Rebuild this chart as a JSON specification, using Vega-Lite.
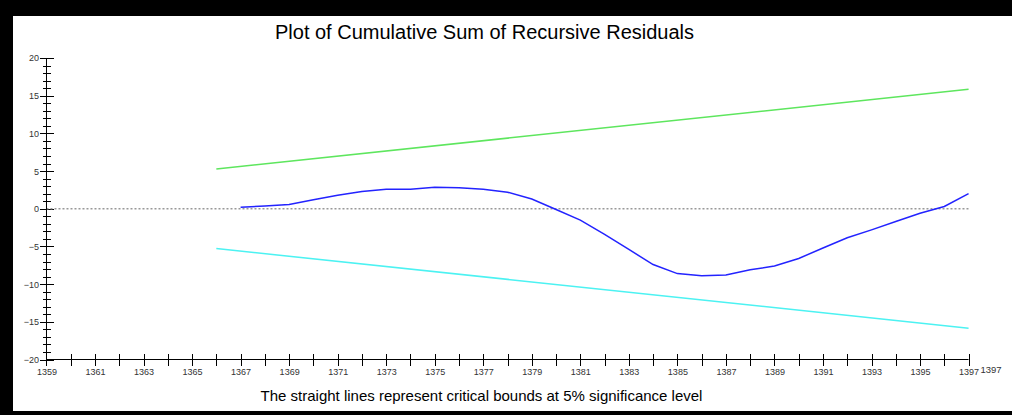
{
  "$schema": "https://vega.github.io/schema/vega-lite/v6.json",
  "width": 999,
  "height": 395,
  "autosize": {"type": "none"},
  "padding": {"top": 16, "left": 13, "right": 0, "bottom": 4},
  "background": "black",
  "config": {
    "view": {"stroke": null, "fill": "white"},
    "font": "Liberation Sans"
  },
  "title": {
    "text": "Plot of Cumulative Sum of Recursive Residuals",
    "fontSize": 20,
    "fontWeight": "normal",
    "font": "Liberation Sans",
    "color": "black",
    "anchor": "middle",
    "frame": "group",
    "baseline": "alphabetic",
    "dx": -28,
    "offset": -43
  },
  "datasets": {
    "series": [
      {"series": "Upper", "year": 1366, "value": 5.28},
      {"series": "Upper", "year": 1397, "value": 15.84},
      {"series": "Lower", "year": 1366, "value": -5.28},
      {"series": "Lower", "year": 1397, "value": -15.84},
      {"series": "CUSUM", "year": 1367, "value": 0.2},
      {"series": "CUSUM", "year": 1368, "value": 0.35},
      {"series": "CUSUM", "year": 1369, "value": 0.55},
      {"series": "CUSUM", "year": 1370, "value": 1.2},
      {"series": "CUSUM", "year": 1371, "value": 1.8},
      {"series": "CUSUM", "year": 1372, "value": 2.3},
      {"series": "CUSUM", "year": 1373, "value": 2.6},
      {"series": "CUSUM", "year": 1374, "value": 2.6},
      {"series": "CUSUM", "year": 1375, "value": 2.85},
      {"series": "CUSUM", "year": 1376, "value": 2.8},
      {"series": "CUSUM", "year": 1377, "value": 2.6},
      {"series": "CUSUM", "year": 1378, "value": 2.2},
      {"series": "CUSUM", "year": 1379, "value": 1.3},
      {"series": "CUSUM", "year": 1380, "value": -0.1},
      {"series": "CUSUM", "year": 1381, "value": -1.5},
      {"series": "CUSUM", "year": 1382, "value": -3.4},
      {"series": "CUSUM", "year": 1383, "value": -5.4},
      {"series": "CUSUM", "year": 1384, "value": -7.4},
      {"series": "CUSUM", "year": 1385, "value": -8.6},
      {"series": "CUSUM", "year": 1386, "value": -8.9},
      {"series": "CUSUM", "year": 1387, "value": -8.8},
      {"series": "CUSUM", "year": 1388, "value": -8.1},
      {"series": "CUSUM", "year": 1389, "value": -7.6},
      {"series": "CUSUM", "year": 1390, "value": -6.6},
      {"series": "CUSUM", "year": 1391, "value": -5.2},
      {"series": "CUSUM", "year": 1392, "value": -3.85},
      {"series": "CUSUM", "year": 1393, "value": -2.8},
      {"series": "CUSUM", "year": 1394, "value": -1.7},
      {"series": "CUSUM", "year": 1395, "value": -0.6},
      {"series": "CUSUM", "year": 1396, "value": 0.3},
      {"series": "CUSUM", "year": 1397, "value": 2.0}
    ]
  },
  "resolve": {"axis": {"x": "independent", "y": "independent"}},
  "layer": [
    {
      "data": {"values": [{}]},
      "mark": {"type": "rule", "color": "#999999", "strokeWidth": 1.5, "strokeDash": [2, 2]},
      "encoding": {
        "x": {
          "datum": 1359,
          "type": "quantitative",
          "scale": {"domain": [1357.62, 1398.79], "nice": false, "zero": false},
          "axis": {
            "orient": "bottom", "offset": -51.5, "domain": false, "grid": false,
            "values": [1359,1360,1361,1362,1363,1364,1365,1366,1367,1368,1369,1370,1371,1372,1373,1374,1375,1376,1377,1378,1379,1380,1381,1382,1383,1384,1385,1386,1387,1388,1389,1390,1391,1392,1393,1394,1395,1396,1397],
            "tickSize": -6, "tickColor": "black", "tickWidth": 1,
            "labels": false,
            "title": "The straight lines represent critical bounds at 5% significance level",
            "titleFontSize": 15, "titleFontWeight": "normal", "titleColor": "black",
            "titleFont": "Liberation Sans",
            "titleX": 468, "titleY": 41, "titleAlign": "center", "titleBaseline": "alphabetic", "titleAnchor": null
          }
        },
        "x2": {"datum": 1397},
        "y": {
          "datum": 0,
          "type": "quantitative",
          "scale": {"domain": [-26.83, 25.57], "nice": false, "zero": false},
          "axis": {
            "orient": "left", "offset": -33.5, "domain": false, "grid": false,
            "values": [-20, -15, -10, -5, 0, 5, 10, 15, 20],
            "tickSize": -7, "tickColor": "black", "tickWidth": 1,
            "labels": false, "title": null
          }
        }
      }
    },
    {
      "data": {"values": [{}]},
      "mark": {"type": "rule", "color": "black", "strokeWidth": 1},
      "encoding": {
        "x": {"datum": 1359, "type": "quantitative", "scale": {"domain": [1357.62, 1398.79], "nice": false, "zero": false}, "axis": null},
        "y": {
          "datum": -20,
          "type": "quantitative",
          "scale": {"domain": [-26.83, 25.57], "nice": false, "zero": false},
          "axis": {
            "orient": "left", "offset": -33.5, "domain": false, "grid": false,
            "values": [-19,-18,-17,-16,-14,-13,-12,-11,-9,-8,-7,-6,-4,-3,-2,-1,1,2,3,4,6,7,8,9,11,12,13,14,16,17,18,19],
            "tickSize": 4, "tickColor": "black", "tickWidth": 1,
            "labels": false, "title": null
          }
        },
        "y2": {"datum": 20}
      }
    },
    {
      "data": {"values": [{}]},
      "mark": {"type": "rule", "color": "black", "strokeWidth": 1},
      "encoding": {
        "x": {"datum": 1359, "type": "quantitative", "scale": {"domain": [1357.62, 1398.79], "nice": false, "zero": false}, "axis": null},
        "x2": {"datum": 1397},
        "y": {
          "datum": -20,
          "type": "quantitative",
          "scale": {"domain": [-26.83, 25.57], "nice": false, "zero": false},
          "axis": {
            "orient": "left", "offset": -33.5, "domain": false, "grid": false,
            "values": [-19,-18,-17,-16,-14,-13,-12,-11,-9,-8,-7,-6,-4,-3,-2,-1,1,2,3,4,6,7,8,9,11,12,13,14,16,17,18,19],
            "tickSize": -4, "tickColor": "black", "tickWidth": 1,
            "labels": false, "title": null
          }
        }
      }
    },
    {
      "data": {"name": "series"},
      "mark": {"type": "line", "strokeWidth": 1.5},
      "encoding": {
        "x": {
          "field": "year",
          "type": "quantitative",
          "scale": {"domain": [1357.62, 1398.79], "nice": false, "zero": false},
          "axis": {
            "orient": "bottom", "offset": -51.5, "domain": false, "grid": false,
            "values": [1359,1360,1361,1362,1363,1364,1365,1366,1367,1368,1369,1370,1371,1372,1373,1374,1375,1376,1377,1378,1379,1380,1381,1382,1383,1384,1385,1386,1387,1388,1389,1390,1391,1392,1393,1394,1395,1396,1397],
            "tickSize": 6, "tickColor": "black", "tickWidth": 1,
            "labelExpr": "datum.value % 2 == 1 ? format(datum.value, 'd') : ''",
            "labelFontSize": 9, "labelColor": "#333333", "labelFont": "Liberation Sans",
            "labelPadding": 2, "labelFlush": false, "labelOverlap": false, "labelBound": false,
            "title": "1397",
            "titleFontSize": 9.5, "titleFontWeight": "normal", "titleColor": "#333333",
            "titleFont": "Liberation Sans",
            "titleX": 967, "titleY": 13, "titleAlign": "left", "titleBaseline": "alphabetic", "titleAnchor": null
          }
        },
        "y": {
          "field": "value",
          "type": "quantitative",
          "scale": {"domain": [-26.83, 25.57], "nice": false, "zero": false},
          "axis": {
            "orient": "left", "offset": -33.5, "domain": false, "grid": false,
            "values": [-20, -15, -10, -5, 0, 5, 10, 15, 20],
            "tickSize": 7, "tickColor": "black", "tickWidth": 1,
            "format": "d",
            "labelFontSize": 9, "labelColor": "#333333", "labelFont": "Liberation Sans",
            "labelPadding": 1, "labelFlush": false, "labelOverlap": false, "labelBound": false,
            "title": null
          }
        },
        "color": {
          "field": "series",
          "type": "nominal",
          "scale": {"domain": ["CUSUM", "Upper", "Lower"], "range": ["#2323ff", "#5ee65e", "#4cf2f2"]},
          "legend": null
        }
      }
    }
  ]
}
